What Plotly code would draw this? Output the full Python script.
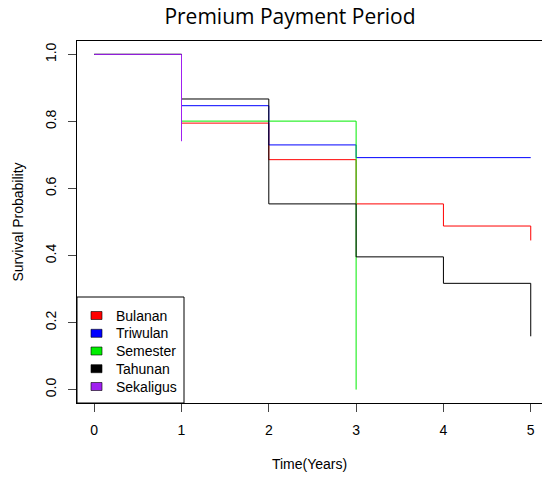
import plotly.graph_objects as go

# Kaplan-Meier survival estimates by premium payment period
groups = ["Bulanan", "Triwulan", "Semester", "Tahunan", "Sekaligus"]
colors = ["#FF0000", "#0000FF", "#00EE00", "#000000", "#A020F0"]

bulanan_t = [0, 1, 2, 3, 4, 5]
bulanan_s = [1.0, 0.795, 0.686, 0.554, 0.488, 0.445]

triwulan_t = [0, 1, 2, 3, 5]
triwulan_s = [1.0, 0.847, 0.730, 0.692, 0.692]

semester_t = [0, 1, 3]
semester_s = [1.0, 0.801, 0.0]

tahunan_t = [0, 1, 2, 3, 4, 5]
tahunan_s = [1.0, 0.867, 0.554, 0.396, 0.317, 0.159]

sekaligus_t = [0, 1]
sekaligus_s = [1.0, 0.741]

x_ticks = [0, 1, 2, 3, 4, 5]
y_ticks = [0.0, 0.2, 0.4, 0.6, 0.8, 1.0]

series = [
    (bulanan_t, bulanan_s),
    (triwulan_t, triwulan_s),
    (semester_t, semester_s),
    (tahunan_t, tahunan_s),
    (sekaligus_t, sekaligus_s),
]

W, H = 542, 478
ML, MR, MT, MB = 77, 0, 41, 75
PW, PH = W - ML - MR, H - MT - MB

fig = go.Figure()
for name, col, (t, s) in zip(groups, colors, series):
    fig.add_trace(go.Scatter(
        x=t, y=s, mode="lines", name=name,
        line=dict(color=col, width=1, shape="hv"),
        showlegend=False, hoverinfo="skip",
    ))

# legend box drawn in pixel-based paper coordinates
def px_x(px):
    return (px - ML) / PW

def px_y(py):
    return (H - MB - py) / PH

shapes = [dict(type="rect", xref="paper", yref="paper",
               x0=px_x(77), x1=px_x(184), y0=px_y(403), y1=px_y(297),
               line=dict(color="#000000", width=1), fillcolor="rgba(0,0,0,0)")]
annotations = []
row_y = [315.5, 333.3, 351.0, 368.7, 386.5]
for name, col, cy in zip(groups, colors, row_y):
    shapes.append(dict(type="rect", xref="paper", yref="paper",
                       x0=px_x(91), x1=px_x(102), y0=px_y(cy + 4), y1=px_y(cy - 4),
                       line=dict(color="#000000", width=0.6), fillcolor=col))
    annotations.append(dict(text=name, xref="paper", yref="paper",
                            x=px_x(114), y=px_y(cy), xanchor="left", yanchor="middle",
                            showarrow=False,
                            font=dict(family="Liberation Sans, Arial", size=14, color="#000000")))

fig.update_layout(
    width=W, height=H,
    margin=dict(l=ML, r=MR, t=MT, b=MB, pad=0),
    paper_bgcolor="white", plot_bgcolor="white",
    title=dict(text="Premium Payment Period", x=290 / W, xanchor="center",
               y=1 - 17 / H, yanchor="middle", yref="container",
               font=dict(family="Open Sans", size=21, color="#000000")),
    font=dict(family="Liberation Sans, Arial", size=14, color="#000000"),
    shapes=shapes, annotations=annotations,
)
fig.update_xaxes(
    range=[-0.197, 5.129], tickvals=x_ticks, ticktext=[str(v) for v in x_ticks],
    showgrid=False, zeroline=False, showline=True, mirror=True,
    linecolor="#000000", linewidth=1,
    ticks="outside", ticklen=8, tickcolor="#444444", tickwidth=1,
    ticklabelstandoff=6,
    title=dict(text="Time(Years)", standoff=22,
               font=dict(family="Liberation Sans, Arial", size=14)),
)
fig.update_yaxes(
    range=[-0.04, 1.04], tickvals=y_ticks, ticktext=[f"{v:.1f}" for v in y_ticks],
    tickangle=-90,
    showgrid=False, zeroline=False, showline=True, mirror=False,
    linecolor="#000000", linewidth=1,
    ticks="outside", ticklen=8, tickcolor="#444444", tickwidth=1,
    ticklabelstandoff=6,
    title=dict(text="Survival Probability", standoff=16,
               font=dict(family="Liberation Sans, Arial", size=14)),
)

fig.write_html("out.html")
